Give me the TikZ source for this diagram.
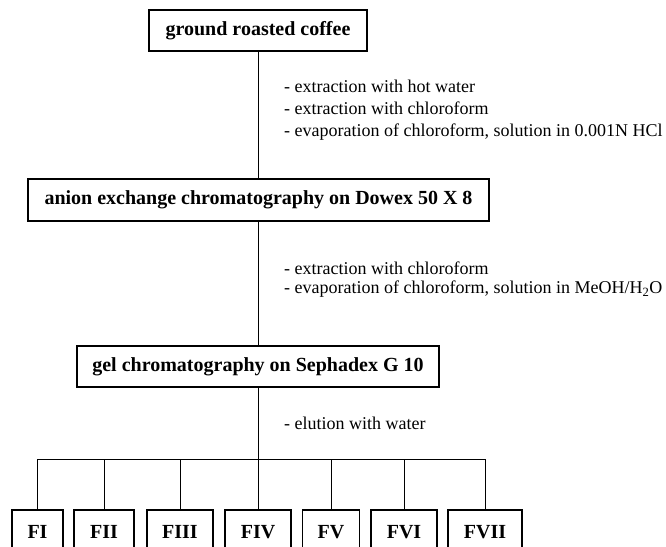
\documentclass[tikz,border=0pt]{standalone}
\usepackage{fontspec}
\setmainfont{Liberation Serif}
\tikzset{
  stage/.style={draw,line width=1.2pt,font=\bfseries\fontsize{20}{22}\selectfont,inner sep=0pt},
  frac/.style={stage,minimum height=44},
  step note/.style={anchor=west,align=left,inner sep=0pt},
  link/.style={line width=1pt}
}
\begin{document}
\begin{tikzpicture}[x=1pt,y=-1pt]
	\clip (0,0) rectangle (666,546);
	\useasboundingbox (0,0) rectangle (666,546);
	% stages
	\node[stage,minimum width=218,minimum height=41] (coffee) at (258,30.5) {ground roasted coffee};
	\node[stage,minimum width=461,minimum height=42] (dowex) at (258.5,200) {anion exchange chromatography on Dowex 50 X 8};
	\node[stage,minimum width=362,minimum height=41] (gel) at (258,366.5) {gel chromatography on Sephadex G 10};
	% fractions
	\node[frac,minimum width=51] (f1) at (37.5,532) {FI};
	\node[frac,minimum width=60] (f2) at (104,532) {FII};
	\node[frac,minimum width=66] (f3) at (180,532) {FIII};
	\node[frac,minimum width=66] (f4) at (258,532) {FIV};
	\node[frac,minimum width=57] (f5) at (331,532) {FV};
	\node[frac,minimum width=66] (f6) at (404,532) {FVI};
	\node[frac,minimum width=74] (f7) at (485,532) {FVII};
	% notes
	\node[step note,font=\fontsize{18}{21.7}\selectfont] (n1) at (284,110) {- extraction with hot water\\- extraction with chloroform\\- evaporation of chloroform, solution in 0.001N HCl};
	\node[step note,font=\fontsize{18}{19.5}\selectfont] (n2) at (284,279.5) {- extraction with chloroform\\- evaporation of chloroform, solution in MeOH/H\textsubscript{2}O};
	\node[step note,font=\fontsize{18}{20}\selectfont] (n3) at (284,423) {- elution with water};
	% connectors
	\draw[link] (coffee.south) -- (coffee.south |- dowex.north);
	\draw[link] (coffee.south |- dowex.south) -- (coffee.south |- gel.north);
	\coordinate (bar) at (258,459);
	\draw[link] (gel.south) -- (gel.south |- bar);
	\draw[link] (f1.north |- bar) -- (f7.north |- bar);
	\foreach \f in {f1,f2,f3,f4,f5,f6,f7}
		\draw[link] (\f.north |- bar) -- (\f.north);
\end{tikzpicture}
\end{document}
